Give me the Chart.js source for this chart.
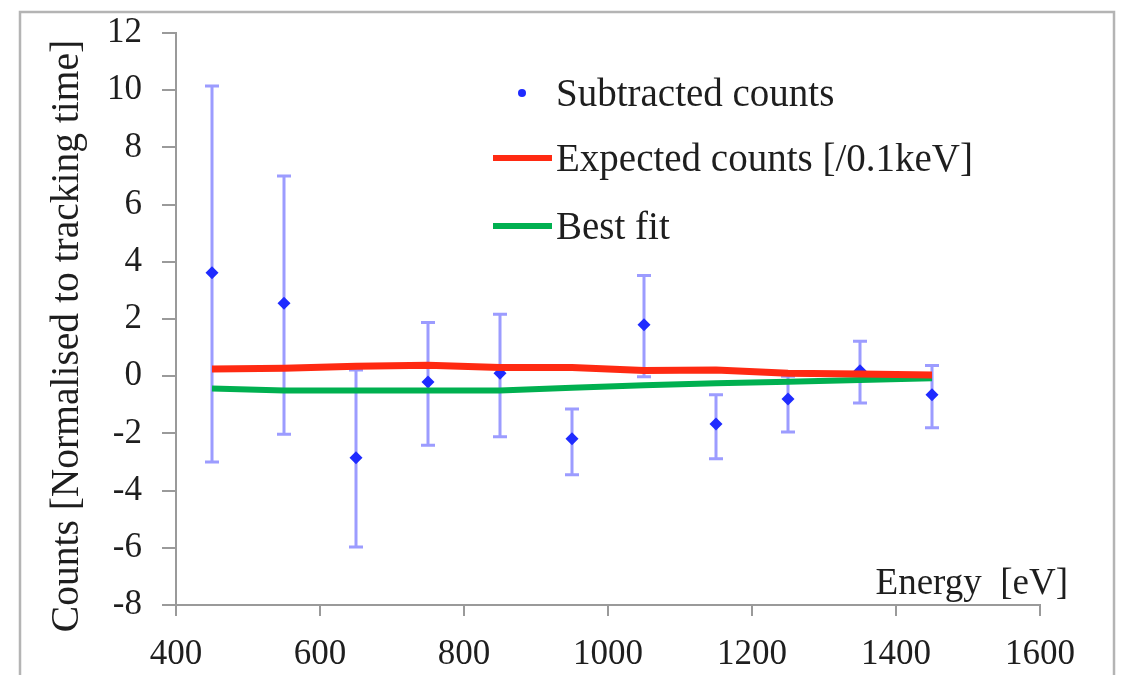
<!DOCTYPE html>
<html>
<head>
<meta charset="utf-8">
<script src="https://cdn.jsdelivr.net/npm/chart.js@4/dist/chart.umd.min.js"></script>
<style>
  html, body { margin: 0; padding: 0; background: #fff; }
  #wrap { width: 1123px; height: 675px; position: relative; }
</style>
</head>
<body>
<div id="wrap"><canvas id="c" width="1123" height="675"></canvas></div>
<script>
// Energy bins (eV) and measured subtracted counts with their error ranges
const energies   = [450, 550, 650, 750, 850, 950, 1050, 1150, 1250, 1350, 1450];
const subtracted = [3.62, 2.55, -2.85, -0.20, 0.10, -2.19, 1.80, -1.67, -0.80, 0.19, -0.65];
const errUpper   = [10.15, 7.00, 0.22, 1.88, 2.17, -1.15, 3.52, -0.65, 0.00, 1.22, 0.37];
const errLower   = [-3.00, -2.03, -5.97, -2.41, -2.12, -3.45, -0.02, -2.89, -1.95, -0.94, -1.80];

// Expected signal and best-fit curves at the same energies
const expected = [0.25, 0.28, 0.35, 0.38, 0.30, 0.30, 0.20, 0.22, 0.10, 0.08, 0.04];
const bestFit  = [-0.43, -0.50, -0.50, -0.50, -0.50, -0.40, -0.32, -0.25, -0.19, -0.13, -0.07];

// Axis tick values
const xTickValues = [400, 600, 800, 1000, 1200, 1400, 1600];
const yTickValues = [-8, -6, -4, -2, 0, 2, 4, 6, 8, 10, 12];

// Legend entries and axis titles
const legendLabels = ['Subtracted counts', 'Expected counts [/0.1keV]', 'Best fit'];
const xTitle = 'Energy  [eV]';
const yTitle = 'Counts [Normalised to tracking time]';

const SERIF = '"Liberation Serif", "Times New Roman", serif';
const COL_TEXT = '#1e1e1e';
const COL_POINT = '#1f2bff';
const COL_ERR = 'rgba(95,95,255,0.62)';
const COL_RED = '#ff2a12';
const COL_GREEN = '#00b050';
const COL_AXIS = '#9a9a9a';

const toXY = (ys) => energies.map((e, i) => ({ x: e, y: ys[i] }));

const decorations = {
  id: 'decorations',
  beforeDraw(chart) {
    const ctx = chart.ctx;
    ctx.save();
    ctx.fillStyle = '#fff';
    ctx.fillRect(0, 0, chart.width, chart.height);
    // outer frame
    ctx.strokeStyle = '#b4b4b4';
    ctx.lineWidth = 2.5;
    ctx.strokeRect(20, 12, 1094, 700);
    ctx.restore();
  },
  beforeDatasetsDraw(chart) {
    // vertical error bars with caps
    const ctx = chart.ctx;
    const xs = chart.scales.x, ys = chart.scales.y;
    ctx.save();
    ctx.strokeStyle = COL_ERR;
    ctx.lineWidth = 3;
    energies.forEach((e, i) => {
      const px = xs.getPixelForValue(e);
      const top = ys.getPixelForValue(errUpper[i]);
      const bot = ys.getPixelForValue(errLower[i]);
      ctx.beginPath();
      ctx.moveTo(px, top); ctx.lineTo(px, bot);
      ctx.moveTo(px - 7, top); ctx.lineTo(px + 7, top);
      ctx.moveTo(px - 7, bot); ctx.lineTo(px + 7, bot);
      ctx.stroke();
    });
    ctx.restore();
  },
  afterDraw(chart) {
    const ctx = chart.ctx;
    ctx.save();

    // legend
    const lx = 493, tx = 556;
    const marks = [93, 158, 226];
    const baselines = [106, 171, 239];
    ctx.fillStyle = COL_POINT;
    ctx.beginPath(); ctx.arc(522, marks[0], 4, 0, Math.PI * 2); ctx.fill();
    ctx.lineWidth = 6;
    ctx.strokeStyle = COL_RED;
    ctx.beginPath(); ctx.moveTo(lx, marks[1]); ctx.lineTo(lx + 59, marks[1]); ctx.stroke();
    ctx.strokeStyle = COL_GREEN;
    ctx.beginPath(); ctx.moveTo(lx, marks[2]); ctx.lineTo(lx + 59, marks[2]); ctx.stroke();
    ctx.fillStyle = COL_TEXT;
    ctx.font = '39px ' + SERIF;
    ctx.textAlign = 'left';
    ctx.textBaseline = 'alphabetic';
    legendLabels.forEach((t, i) => ctx.fillText(t, tx, baselines[i]));

    // x-axis title inside the plot, bottom right
    ctx.textAlign = 'right';
    ctx.font = '37px ' + SERIF;
    ctx.fillText(xTitle, 1068, 594);

    // y-axis title, rotated
    ctx.translate(68, 336);
    ctx.rotate(-Math.PI / 2);
    ctx.textAlign = 'center';
    ctx.textBaseline = 'middle';
    ctx.font = '39.5px ' + SERIF;
    ctx.fillText(yTitle, 0, 0);
    ctx.restore();
  }
};

new Chart(document.getElementById('c'), {
  type: 'scatter',
  data: {
    datasets: [
      {
        label: legendLabels[1],
        data: toXY(expected),
        showLine: true,
        borderColor: COL_RED,
        borderWidth: 7,
        pointRadius: 0,
        tension: 0
      },
      {
        label: legendLabels[2],
        data: toXY(bestFit),
        showLine: true,
        borderColor: COL_GREEN,
        borderWidth: 6,
        pointRadius: 0,
        tension: 0
      },
      {
        label: legendLabels[0],
        data: toXY(subtracted),
        showLine: false,
        pointStyle: 'rectRot',
        pointRadius: 6.5,
        backgroundColor: COL_POINT,
        borderColor: COL_POINT,
        borderWidth: 0
      }
    ]
  },
  options: {
    responsive: false,
    animation: false,
    devicePixelRatio: 1,
    layout: { padding: { top: 33, right: 83, left: 0, bottom: 0 } },
    plugins: {
      legend: { display: false },
      tooltip: { enabled: false }
    },
    scales: {
      x: {
        type: 'linear',
        min: 400, max: 1600,
        afterBuildTicks: (s) => { s.ticks = xTickValues.map(v => ({ value: v })); },
        afterFit: (s) => { s.height = 70; s.paddingLeft = 0; s.paddingRight = 0; },
        grid: { display: true, drawOnChartArea: false, drawTicks: true, tickLength: 11, color: COL_AXIS, lineWidth: 2 },
        border: { display: true, color: COL_AXIS, width: 2 },
        ticks: {
          font: { family: SERIF, size: 35 }, color: COL_TEXT, padding: 18, maxRotation: 0,
          callback: (v) => String(v)
        }
      },
      y: {
        type: 'linear',
        min: -8, max: 12,
        afterBuildTicks: (s) => { s.ticks = yTickValues.map(v => ({ value: v })); },
        afterFit: (s) => { s.width = 176; s.paddingTop = 0; s.paddingBottom = 0; },
        grid: { display: true, drawOnChartArea: false, drawTicks: true, tickLength: 14, color: COL_AXIS, lineWidth: 2 },
        border: { display: true, color: COL_AXIS, width: 2 },
        ticks: {
          font: { family: SERIF, size: 35 }, color: COL_TEXT, padding: 20,
          callback: (v) => String(v)
        }
      }
    }
  },
  plugins: [decorations]
});
</script>
</body>
</html>
